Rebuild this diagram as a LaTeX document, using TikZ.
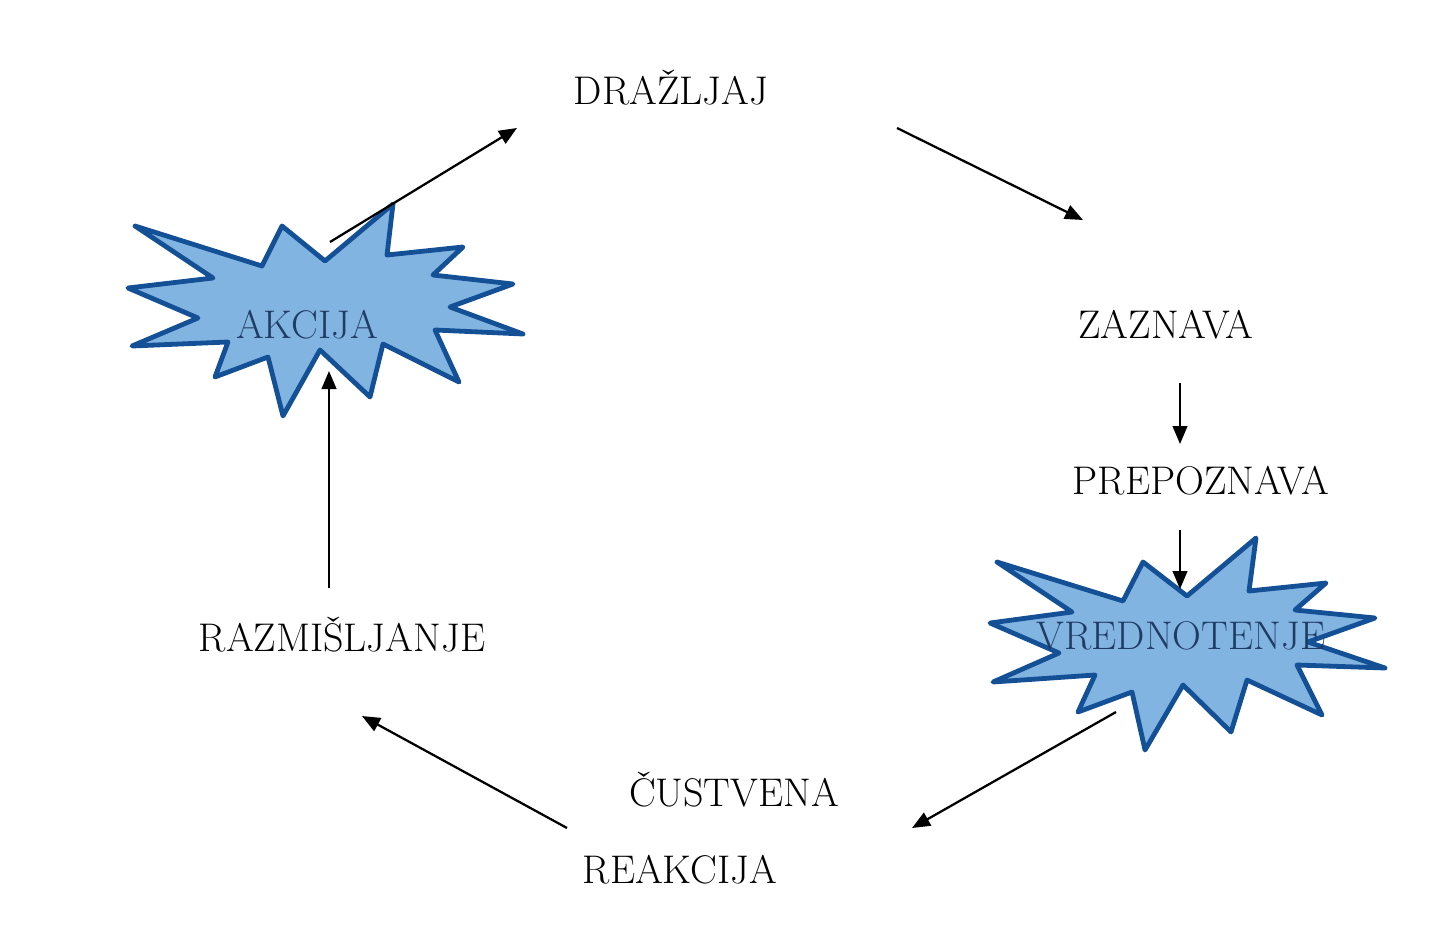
\documentclass[tikz,border=0pt]{standalone}
\usepackage{fontspec}
\usetikzlibrary{arrows.meta}
\definecolor{starfill}{RGB}{130,180,225}
\definecolor{starline}{RGB}{20,80,150}
\definecolor{startext}{RGB}{30,60,100}
\tikzset{
  lbl/.style={inner sep=0pt, anchor=base, font=\fontsize{30}{33}\selectfont},
  starlbl/.style={lbl, text=startext},
  burst/.style={fill=starfill, draw=starline, line width=3.6pt, line join=round},
  conn/.style={line width=1.7pt, -{Triangle[length=13.5pt,width=11pt]}}
}
\begin{document}
\begin{tikzpicture}[x=0.75pt,y=-0.75pt]
\useasboundingbox (0,0) rectangle (1451,924);
% starbursts
\draw[burst] (135,226) -- (262,266) -- (282,226) -- (325,261) -- (393,204) -- (387,255)
  -- (463,247) -- (433,275) -- (513,284) -- (450,307) -- (523,334) -- (435,330)
  -- (459,382) -- (383,344) -- (370,397) -- (320,350) -- (283,416) -- (268,357)
  -- (215,377) -- (228,342) -- (132,346) -- (198,318) -- (128,288) -- (213,278) -- cycle;
\draw[burst] (997,562) -- (1123,601) -- (1143,562) -- (1187,596) -- (1256,538) -- (1249,591)
  -- (1326,583) -- (1295,610) -- (1375,618) -- (1308,642) -- (1385,668) -- (1297,665)
  -- (1322,715) -- (1247,680) -- (1231,732) -- (1183,685) -- (1145,750) -- (1132,692)
  -- (1078,712) -- (1095,675) -- (993,682) -- (1059,653) -- (990,623) -- (1072,612) -- cycle;
% labels
\node[lbl] (drazljaj) at (671,104) {DRAŽLJAJ};
\node[lbl] (zaznava) at (1166,338) {ZAZNAVA};
\node[lbl] (prepoznava) at (1201,494) {PREPOZNAVA};
\node[starlbl] (vrednotenje) at (1181,649) {VREDNOTENJE};
\node[lbl] (custvena) at (734,806) {ČUSTVENA};
\node[lbl] (reakcija) at (680,883) {REAKCIJA};
\node[lbl] (razmisljanje) at (342,651) {RAZMIŠLJANJE};
\node[starlbl] (akcija) at (307,338) {AKCIJA};
% connector end points
\coordinate (akOut) at (330,242);
\coordinate (drIn) at (517,128);
\coordinate (drOut) at (897,128);
\coordinate (zaIn) at (1083,220);
\coordinate (zaOut) at (1180,383);
\coordinate (prIn) at (1180,444);
\coordinate (prOut) at (1180,530);
\coordinate (vrIn) at (1180,589);
\coordinate (vrOut) at (1116,712);
\coordinate (cuIn) at (912,828);
\coordinate (reOut) at (567,828);
\coordinate (raIn) at (362,716);
\coordinate (raOut) at (329,588);
\coordinate (akIn) at (329,371);
% connectors
\draw[conn] (akOut) -- (drIn);
\draw[conn] (drOut) -- (zaIn);
\draw[conn] (zaOut) -- (prIn);
\draw[conn] (prOut) -- (vrIn);
\draw[conn] (vrOut) -- (cuIn);
\draw[conn] (reOut) -- (raIn);
\draw[conn] (raOut) -- (akIn);
\end{tikzpicture}
\end{document}
